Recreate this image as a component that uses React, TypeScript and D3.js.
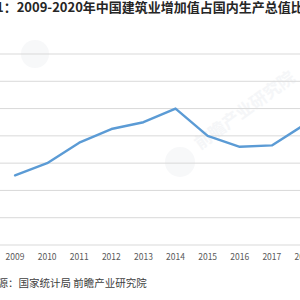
import * as d3 from 'd3';

const years = ['2009', '2010', '2011', '2012', '2013', '2014', '2015', '2016', '2017', '2018', '2019', '2020'];
const shares = [6.51, 6.6, 6.75, 6.85, 6.9, 7.0, 6.8, 6.72, 6.73, 6.88, 7.16, 7.18];
const yTicks = [6.0, 6.2, 6.4, 6.6, 6.8, 7.0, 7.2, 7.4];
const title = '图表1：2009-2020年中国建筑业增加值占国内生产总值比重';
const source = '来源：国家统计局 前瞻产业研究院';

export default function App() {
  const width = 300;
  const height = 300;
  const font = '"Noto Sans CJK SC", "Noto Sans", sans-serif';

  // plot is cropped on both sides, like the reference
  const x = d3.scaleBand().domain(years).range([-1, -1 + 32.1 * years.length]);
  const y = d3.scaleLinear().domain([6.0, 7.4]).range([245, 54]);

  const line = d3.line<number>()
    .x((d, i) => (x(years[i]) as number) + x.bandwidth() / 2)
    .y(d => y(d));

  return (
    <svg width={width} height={height}
      style={{ position: 'fixed', left: 0, top: 0, background: '#fff' }}>
      <rect width={width} height={height} fill="#fff" />

      {/* faint watermarks */}
      <g opacity={0.45}>
        <circle cx={35} cy={54} r={14} fill="#eef0f3" />
        <circle cx={180} cy={162} r={15} fill="#eef0f3" />
        <text x={200} y={150} fontFamily={font} fontSize={17} fontWeight="bold" fill="#e9ecf0"
          transform="rotate(-36 200 150)">前瞻产业研究院</text>
      </g>

      {yTicks.map(t => (
        <line key={t} x1={0} x2={width} y1={y(t)} y2={y(t)} stroke="#d9d9d9" strokeWidth={1} />
      ))}

      <path d={line(shares) || ''} fill="none" stroke="#5b9bd5" strokeWidth={2.4}
        strokeLinejoin="round" strokeLinecap="round" />

      {years.map(yr => (
        <text key={yr} x={(x(yr) as number) + x.bandwidth() / 2} y={260}
          textAnchor="middle" fontFamily={font} fontSize={8.5} fill="#595959">{yr}</text>
      ))}

      <text x={-30} y={12} fontFamily={font} fontSize={13} fontWeight="bold" fill="#262626">{title}</text>
      <text x={-13} y={287} fontFamily={font} fontSize={10.5} fill="#404040">{source}</text>
    </svg>
  );
}
